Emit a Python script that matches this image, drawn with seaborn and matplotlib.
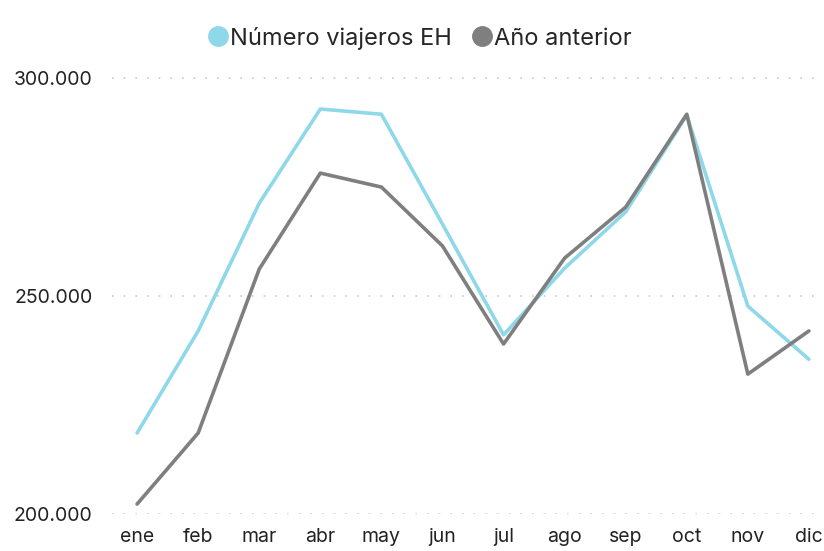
import pandas as pd
import seaborn as sns
from matplotlib import pyplot as plt
import matplotlib.ticker as mtick
from matplotlib.lines import Line2D

meses = ['ene', 'feb', 'mar', 'abr', 'may', 'jun', 'jul', 'ago', 'sep', 'oct', 'nov', 'dic']
viajeros_eh = [218600, 242000, 271300, 292900, 291700, 266500,
               241100, 256400, 269300, 291500, 247700, 235500]
anio_anterior = [202300, 218600, 256200, 278200, 275000, 261500,
                 239000, 258700, 270400, 291700, 232100, 242000]
series = ['Número viajeros EH', 'Año anterior']

df = pd.concat([
    pd.DataFrame({'mes': meses, 'valor': viajeros_eh, 'serie': series[0]}),
    pd.DataFrame({'mes': meses, 'valor': anio_anterior, 'serie': series[1]}),
])

sns.set_style('white')
plt.rcParams['font.family'] = ['Inter', 'DejaVu Sans']

palette = {series[0]: '#8fd8ea', series[1]: '#7f7f7f'}

fig = plt.figure(figsize=(8.24, 5.51), dpi=100)
ax = fig.add_axes([0.136, 0.067, 0.862, 0.823])

sns.lineplot(data=df, x='mes', y='valor', hue='serie', palette=palette,
             linewidth=2.6, ax=ax, legend=False, sort=False)

ax.set_ylim(200000, 304000)
ax.set_xlim(-0.41, 11.22)
ax.set_yticks([200000, 250000, 300000])
ax.yaxis.set_major_formatter(mtick.FuncFormatter(lambda v, p: f'{int(v):,}'.replace(',', '.')))
ax.grid(axis='y', color='#c8c8c8', linestyle=(0, (1, 6)), linewidth=1.2)
ax.grid(axis='x', visible=False)
for s in ax.spines.values():
    s.set_visible(False)
ax.tick_params(axis='y', length=0, pad=14, labelsize=14, labelcolor='#222222')
ax.tick_params(axis='x', length=0, pad=10, labelsize=14, labelcolor='#222222')
ax.set_xlabel('')
ax.set_ylabel('')

handles = [Line2D([], [], marker='o', linestyle='', markersize=14,
                  color=palette[s]) for s in series]
fig.legend(handles, series, loc='upper center', bbox_to_anchor=(0.507, 0.99),
           ncol=2, frameon=False, fontsize=17, handletextpad=-0.1,
           columnspacing=0.7, handlelength=1.2)

plt.savefig('out.png', dpi=100)
